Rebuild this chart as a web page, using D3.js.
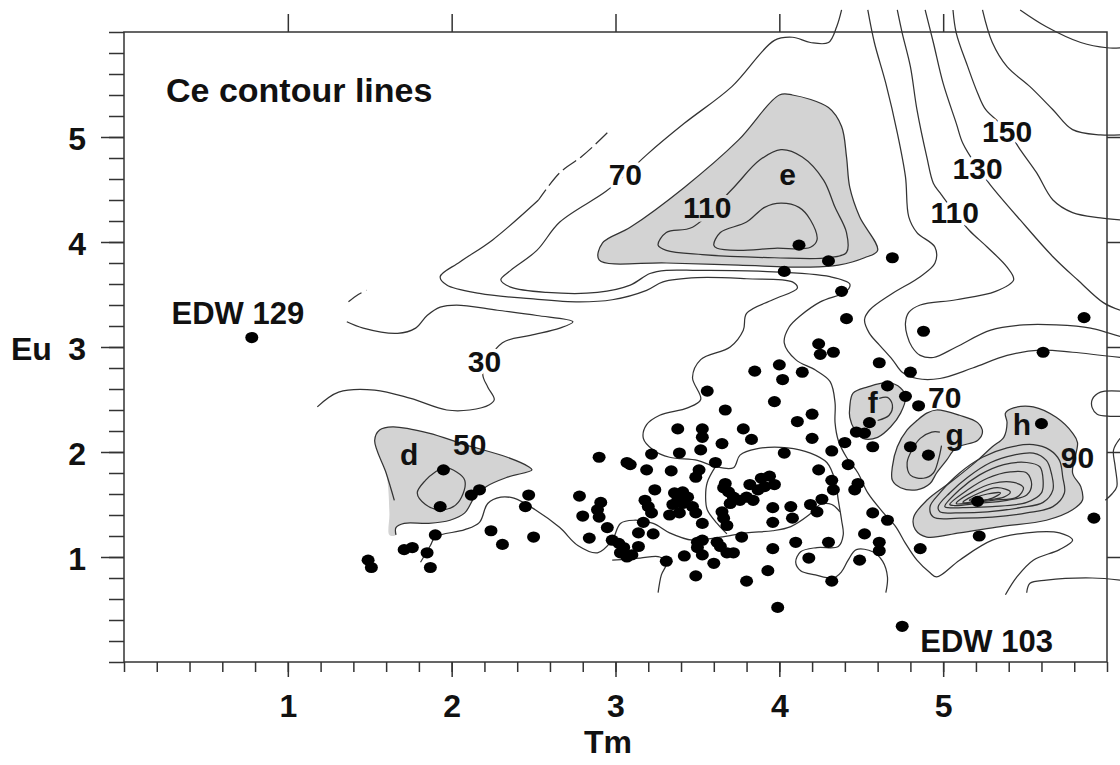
<!DOCTYPE html>
<html>
<head>
<meta charset="utf-8">
<script src="https://cdn.jsdelivr.net/npm/d3@7"></script>
<style>
    body { margin: 0; background: #fff; }
    text { font-family: "Liberation Sans", Arial, sans-serif; font-weight: bold; fill: #111; }
</style>
</head>
<body>
<svg id="chart" width="1120" height="765"></svg>
<script>
// all values are [Tm, Eu]
var dotPoints = [
    [0.78, 3.09], [1.49, 0.97], [1.51, 0.90], [1.71, 1.07], [1.76, 1.09], [1.85, 1.04], [1.87, 0.90], [1.90, 1.21],
    [1.95, 1.83], [1.93, 1.48], [2.12, 1.59], [2.17, 1.64], [2.24, 1.25], [2.31, 1.12], [2.47, 1.59], [2.45, 1.48], [2.50, 1.19],
    [3.85, 2.77], [3.56, 2.58], [3.67, 2.40], [3.38, 2.22], [3.53, 2.22], [3.53, 2.14], [3.78, 2.22], [3.83, 2.12],
    [3.65, 2.08], [3.52, 2.02], [3.39, 1.99], [2.90, 1.95], [3.22, 1.98], [3.07, 1.90], [3.09, 1.88], [3.61, 1.90],
    [3.19, 1.83], [3.34, 1.82], [3.51, 1.83], [3.49, 1.76], [3.67, 1.70], [3.66, 1.66], [3.82, 1.69], [3.24, 1.64],
    [3.36, 1.61], [3.41, 1.62], [3.44, 1.57], [3.38, 1.54], [3.35, 1.50], [3.41, 1.51], [3.47, 1.48], [3.49, 1.42],
    [3.39, 1.42], [3.33, 1.40], [2.78, 1.58], [2.91, 1.52], [2.89, 1.45], [2.90, 1.38], [3.18, 1.54], [3.20, 1.48],
    [3.22, 1.42], [3.69, 1.62], [3.72, 1.57], [3.70, 1.51], [3.76, 1.54], [3.80, 1.57], [3.84, 1.54], [3.87, 1.64],
    [2.80, 1.39], [3.17, 1.33], [3.53, 1.32], [3.65, 1.43], [3.66, 1.37], [3.68, 1.30], [2.95, 1.28], [2.84, 1.18],
    [3.14, 1.23], [3.23, 1.22], [2.98, 1.16], [3.02, 1.13], [3.05, 1.09], [3.03, 1.04], [3.07, 1.00], [3.10, 1.02],
    [3.14, 1.10], [3.50, 1.14], [3.53, 1.16], [3.50, 1.09], [3.53, 1.02], [3.62, 1.14], [3.64, 1.10], [3.68, 1.04],
    [3.72, 1.04], [3.77, 1.19], [3.31, 0.96], [3.42, 1.01], [3.60, 0.94], [3.49, 0.82], [3.80, 0.77],
    [4.88, 3.15], [4.24, 3.03], [4.25, 2.93], [4.33, 2.95], [4.61, 2.85], [4.00, 2.83], [4.02, 2.69], [4.14, 2.76],
    [4.80, 2.76], [4.66, 2.63], [4.77, 2.53], [4.85, 2.44], [3.97, 2.48], [4.20, 2.36], [4.11, 2.29], [4.55, 2.28],
    [4.47, 2.19], [4.52, 2.18], [4.40, 2.09], [4.57, 2.05], [4.80, 2.05], [4.91, 1.97], [4.32, 2.01], [4.03, 1.99],
    [4.20, 2.13], [4.42, 1.88], [4.24, 1.83], [4.32, 1.73], [4.33, 1.64], [4.48, 1.70], [4.46, 1.64], [3.89, 1.75],
    [3.94, 1.77], [3.97, 1.69], [3.91, 1.67], [4.26, 1.55], [4.19, 1.50], [4.23, 1.43], [3.96, 1.47], [4.07, 1.48],
    [4.08, 1.37], [3.96, 1.33], [4.57, 1.42], [4.66, 1.35], [4.10, 1.14], [4.30, 1.14], [4.52, 1.22], [4.61, 1.14],
    [4.61, 1.06], [4.86, 1.08], [3.96, 1.08], [4.18, 0.99], [4.49, 0.97], [3.93, 0.87], [4.32, 0.77], [3.99, 0.52],
    [4.12, 3.97], [4.30, 3.82], [4.03, 3.72], [4.69, 3.85], [4.38, 3.53], [4.41, 3.27], [5.86, 3.28], [5.61, 2.95],
    [5.60, 2.27], [5.21, 1.53], [5.22, 1.20], [5.92, 1.37], [4.75, 0.34]
]

// open contour lines
var contour30 = [[1.18, 2.43], [1.31, 2.57], [1.53, 2.59], [1.75, 2.51], [1.97, 2.40], [2.11, 2.40], [2.23, 2.45], [2.26, 2.50],
    [2.22, 2.62], [2.19, 2.75], [2.31, 3.04], [2.48, 3.11], [2.66, 3.18], [2.74, 3.24], [2.52, 3.30], [2.28, 3.35],
    [2.03, 3.40], [1.93, 3.38], [1.85, 3.30], [1.78, 3.18], [1.67, 3.13], [1.46, 3.18], [1.36, 3.24]]
var arc30 = [[1.37, 3.43], [1.43, 3.50], [1.48, 3.54]]
var contour50Dash = [[2.95, 5.04], [2.87, 4.92], [2.79, 4.81], [2.66, 4.66], [2.53, 4.40]]
var contour50 = [[2.53, 4.40], [2.25, 4.02], [2.05, 3.81], [1.93, 3.67], [1.97, 3.59], [2.17, 3.51], [2.48, 3.46], [2.78, 3.43],
    [2.98, 3.45], [3.19, 3.54], [3.29, 3.62], [3.50, 3.66], [3.80, 3.65], [4.08, 3.62], [4.11, 3.56], [3.96, 3.45],
    [3.80, 3.32], [3.78, 3.16], [3.70, 3.00], [3.52, 2.88], [3.47, 2.71], [3.52, 2.50], [3.44, 2.42], [3.27, 2.35],
    [3.19, 2.26], [3.17, 2.13], [3.23, 2.02], [3.33, 1.95], [3.50, 1.92], [3.61, 1.86], [3.72, 1.85], [3.76, 1.97],
    [3.86, 2.03], [4.05, 2.04], [4.19, 1.99], [4.29, 1.90], [4.34, 1.73], [4.36, 1.54], [4.38, 1.35], [4.39, 1.21],
    [4.36, 1.10], [4.23, 1.09], [4.13, 1.05], [4.10, 0.95], [4.13, 0.87], [4.22, 0.83], [4.33, 0.80], [4.38, 0.86],
    [4.42, 0.97], [4.47, 1.07], [4.57, 1.05], [4.63, 0.96], [4.66, 0.81], [4.65, 0.66]]
var link50 = [[3.61, 1.86], [3.56, 1.71], [3.55, 1.57], [3.56, 1.45], [3.62, 1.32], [3.68, 1.22]]
var contourLow = [[1.81, 0.95], [1.87, 1.11], [1.90, 1.19], [2.08, 1.26], [2.17, 1.33], [2.22, 1.51], [2.30, 1.57], [2.38, 1.56],
    [2.51, 1.45], [2.66, 1.28], [2.77, 1.11], [2.89, 1.04], [2.98, 1.16], [3.03, 1.32], [3.11, 1.35], [3.23, 1.32],
    [3.33, 1.23], [3.47, 1.16], [3.64, 1.19], [3.80, 1.23], [3.96, 1.25], [4.07, 1.29], [4.18, 1.40], [4.25, 1.50],
    [4.32, 1.50], [4.37, 1.43]]
var contourLowStub = [[2.98, 0.97], [3.15, 0.99], [3.27, 1.00], [3.31, 0.94], [3.28, 0.83], [3.26, 0.66]]
var contour70 = [[4.38, 6.21], [4.35, 6.05], [4.30, 5.90], [4.19, 5.90], [4.08, 5.95], [3.97, 5.92], [3.71, 5.48], [3.42, 5.13],
    [3.19, 4.83], [3.06, 4.64], [2.94, 4.48], [2.66, 4.19], [2.52, 3.92], [2.36, 3.73], [2.30, 3.64], [2.36, 3.57],
    [2.58, 3.52], [2.89, 3.52], [3.09, 3.59], [3.21, 3.70], [3.31, 3.73], [3.50, 3.73], [3.90, 3.72], [4.31, 3.67],
    [4.43, 3.60], [4.41, 3.53], [4.25, 3.43], [4.13, 3.30], [4.06, 3.19], [4.03, 3.04], [4.10, 2.88], [4.22, 2.78],
    [4.31, 2.67], [4.34, 2.47], [4.34, 2.28], [4.36, 2.11], [4.41, 1.95], [4.48, 1.80], [4.54, 1.61], [4.63, 1.43],
    [4.71, 1.29], [4.77, 1.13], [4.84, 0.97], [4.92, 0.85], [4.96, 0.81], [5.10, 0.97], [5.30, 1.16], [5.51, 1.23],
    [5.71, 1.23], [5.79, 1.16], [5.71, 1.07], [5.55, 0.97], [5.45, 0.81], [5.38, 0.64]]
var contour90 = [[4.54, 6.21], [4.58, 5.90], [4.65, 5.51], [4.72, 5.04], [4.77, 4.62], [4.79, 4.24], [4.84, 4.09], [4.95, 3.95],
    [4.95, 3.80], [4.86, 3.67], [4.68, 3.50], [4.55, 3.35], [4.52, 3.26], [4.55, 3.13], [4.61, 3.02], [4.69, 2.88],
    [4.75, 2.76], [4.84, 2.70], [4.98, 2.70], [5.18, 2.80], [5.39, 2.92], [5.59, 2.97], [5.79, 2.95], [6.08, 2.90]]
var contour110 = [[4.72, 6.21], [4.75, 5.99], [4.80, 5.67], [4.84, 5.26], [4.90, 4.81], [4.94, 4.56], [4.98, 4.47], [5.07, 4.28],
    [5.16, 4.11], [5.27, 3.95], [5.39, 3.76], [5.43, 3.64], [5.32, 3.53], [5.08, 3.45], [4.86, 3.40], [4.79, 3.33],
    [4.77, 3.23], [4.78, 3.11], [4.81, 3.00], [4.86, 2.92], [4.94, 2.90], [5.08, 3.00], [5.29, 3.16], [5.49, 3.21],
    [5.69, 3.21], [5.90, 3.18], [6.08, 3.10]]
var contour130 = [[4.89, 6.21], [4.94, 5.90], [5.00, 5.51], [5.08, 5.13], [5.12, 4.94], [5.21, 4.71], [5.29, 4.54], [5.47, 4.21],
    [5.67, 3.86], [5.82, 3.64], [5.98, 3.42], [6.08, 3.35]]
var contour150 = [[5.06, 6.21], [5.08, 5.99], [5.15, 5.67], [5.21, 5.42], [5.26, 5.26], [5.39, 5.07], [5.47, 4.88], [5.57, 4.66],
    [5.67, 4.40], [5.79, 4.28], [5.96, 4.23], [6.08, 4.21]]
var contour170 = [[5.24, 6.21], [5.30, 5.90], [5.39, 5.67], [5.53, 5.48], [5.67, 5.26], [5.79, 5.07], [5.96, 5.02], [6.08, 5.02]]
var contour190 = [[5.47, 6.21], [5.63, 6.05], [5.84, 5.90], [6.00, 5.85], [6.08, 5.85]]
var edgeLoopA = [[6.08, 2.58], [5.96, 2.57], [5.91, 2.50], [5.91, 2.42], [5.94, 2.36], [6.02, 2.34], [6.08, 2.34]]
var edgeLoopB = [[6.08, 2.13], [6.04, 2.02], [6.05, 1.86], [6.06, 1.67], [6.03, 1.60], [5.99, 1.54]]
var edgeLineC = [[5.51, 0.66], [5.53, 0.75], [5.63, 0.78], [5.91, 0.80], [6.08, 0.78]]

// shaded areas and their inner contours
var regionE = [[2.90, 3.83], [2.92, 3.99], [3.09, 4.14], [3.42, 4.52], [3.75, 4.97], [4.00, 5.40], [4.08, 5.40], [4.30, 5.28],
    [4.38, 5.10], [4.41, 4.81], [4.43, 4.52], [4.49, 4.24], [4.60, 3.92], [4.52, 3.85], [4.36, 3.78], [4.19, 3.76],
    [3.75, 3.78], [3.31, 3.80]]
var ringE110 = [[3.26, 3.97], [3.31, 4.09], [3.47, 4.14], [3.71, 4.50], [3.88, 4.78], [4.01, 4.88], [4.14, 4.81], [4.27, 4.59],
    [4.34, 4.33], [4.41, 4.09], [4.41, 3.90], [4.30, 3.85], [3.97, 3.85], [3.53, 3.88], [3.31, 3.92]]
var ringE130 = [[3.60, 3.97], [3.64, 4.09], [3.80, 4.19], [3.91, 4.33], [4.01, 4.37], [4.12, 4.33], [4.19, 4.21], [4.23, 4.02],
    [4.19, 3.95], [3.97, 3.94], [3.75, 3.92], [3.62, 3.94]]
var regionD = [[1.53, 2.11], [1.56, 2.21], [1.64, 2.24], [1.86, 2.18], [2.08, 2.07], [2.34, 1.95], [2.47, 1.86], [2.49, 1.83],
    [2.34, 1.76], [2.21, 1.67], [2.14, 1.57], [2.08, 1.42], [1.99, 1.35], [1.86, 1.32], [1.71, 1.32], [1.66, 1.28],
    [1.66, 1.21], [1.62, 1.21], [1.62, 1.42], [1.60, 1.80]]
var edgeD = [[1.65, 1.54], [1.60, 1.80], [1.53, 2.11], [1.56, 2.21], [1.64, 2.24], [1.86, 2.18], [2.08, 2.07], [2.34, 1.95],
    [2.47, 1.86], [2.49, 1.83], [2.34, 1.76], [2.21, 1.67], [2.14, 1.57], [2.08, 1.42], [1.99, 1.35], [1.86, 1.32],
    [1.71, 1.32], [1.66, 1.28], [1.66, 1.21]]
var ringD70 = [[1.95, 1.85], [2.03, 1.81], [2.08, 1.73], [2.06, 1.57], [2.01, 1.48], [1.92, 1.45], [1.84, 1.50], [1.79, 1.61],
    [1.84, 1.73], [1.90, 1.81]]
var regionF = [[4.43, 2.43], [4.45, 2.56], [4.54, 2.62], [4.66, 2.66], [4.74, 2.61], [4.77, 2.52], [4.74, 2.37], [4.68, 2.24],
    [4.60, 2.14], [4.51, 2.13], [4.46, 2.21], [4.43, 2.33]]
var ringF = [[4.61, 2.51], [4.66, 2.52], [4.69, 2.45], [4.67, 2.35], [4.60, 2.30]]
var regionG = [[4.84, 2.30], [4.90, 2.37], [4.96, 2.40], [5.10, 2.35], [5.21, 2.28], [5.24, 2.19], [5.21, 2.11], [5.08, 2.04],
    [5.02, 1.92], [4.96, 1.80], [4.92, 1.70], [4.84, 1.64], [4.74, 1.66], [4.69, 1.73], [4.69, 1.86], [4.72, 2.05], [4.78, 2.21]]
var ringG = [[4.98, 2.19], [4.93, 2.19], [4.86, 2.13], [4.81, 2.02], [4.78, 1.90], [4.80, 1.78], [4.88, 1.75], [4.94, 1.80],
    [4.97, 1.92], [4.99, 2.06]]
var regionH = [[5.38, 2.37], [5.43, 2.42], [5.55, 2.43], [5.69, 2.33], [5.79, 2.18], [5.82, 2.09], [5.79, 1.80], [5.84, 1.67],
    [5.85, 1.54], [5.79, 1.45], [5.63, 1.35], [5.35, 1.29], [5.10, 1.23], [4.90, 1.19], [4.83, 1.26], [4.82, 1.38],
    [4.90, 1.54], [5.06, 1.73], [5.21, 1.92], [5.30, 2.05], [5.37, 2.14], [5.39, 2.28]]
var ringsH = [
    [[4.92, 1.48], [4.98, 1.61], [5.10, 1.80], [5.24, 1.95], [5.39, 2.04], [5.55, 2.07], [5.65, 2.02], [5.71, 1.92],
        [5.73, 1.76], [5.74, 1.61], [5.67, 1.48], [5.51, 1.42], [5.30, 1.38], [5.10, 1.37], [4.94, 1.38]],
    [[4.97, 1.48], [5.04, 1.61], [5.15, 1.76], [5.29, 1.90], [5.43, 1.97], [5.55, 1.99], [5.63, 1.92], [5.66, 1.80],
        [5.67, 1.64], [5.61, 1.52], [5.47, 1.47], [5.27, 1.43], [5.08, 1.42], [4.98, 1.43]],
    [[5.01, 1.48], [5.10, 1.64], [5.22, 1.78], [5.37, 1.88], [5.51, 1.90], [5.59, 1.86], [5.61, 1.73], [5.60, 1.61],
        [5.51, 1.52], [5.30, 1.48], [5.12, 1.47], [5.03, 1.47]],
    [[5.04, 1.50], [5.15, 1.64], [5.27, 1.75], [5.41, 1.81], [5.51, 1.80], [5.54, 1.69], [5.51, 1.59], [5.39, 1.54],
        [5.21, 1.51], [5.07, 1.49]],
    [[5.08, 1.51], [5.18, 1.62], [5.30, 1.70], [5.43, 1.71], [5.49, 1.66], [5.45, 1.57], [5.30, 1.54], [5.15, 1.51]],
    [[5.12, 1.52], [5.22, 1.61], [5.33, 1.66], [5.41, 1.62], [5.37, 1.57], [5.24, 1.54]],
    [[5.16, 1.54], [5.27, 1.60], [5.35, 1.61], [5.30, 1.56], [5.21, 1.53]]
]

// contour value labels, letters and sample names
var lineLabels = ["70", "110", "110", "130", "150", "30", "50", "70", "90"]
var lineLabelTm = [3.06, 3.56, 5.07, 5.21, 5.39, 2.20, 2.11, 5.01, 5.82]
var lineLabelEu = [4.54, 4.23, 4.18, 4.60, 4.95, 2.76, 1.97, 2.42, 1.85]
var lineLabelHalo = ["#fff", "#d3d3d3", "#fff", "#fff", "#fff", "#fff", "none", "none", "none"]
var letters = ["e", "d", "f", "g", "h"]
var letterTm = [4.05, 1.74, 4.57, 5.07, 5.48]
var letterEu = [4.54, 1.88, 2.37, 2.07, 2.16]
var sampleNames = ["EDW 129", "EDW 103"]
var sampleTm = [0.29, 4.86]
var sampleEu = [3.22, 0.10]

var majorTicks = [1, 2, 3, 4, 5]
var minorTicks = d3.range(0, 31).map(function (i) { return i / 5 })

var svg = d3.select("svg#chart"),
    x = d3.scaleLinear().domain([0, 6]).range([124, 1107]),
    y = d3.scaleLinear().domain([0, 6]).range([662, 32])

var lineColor = '#333333'
var shade = '#d3d3d3'

var openLine = d3.line()
    .x(function (d) { return x(d[0]) })
    .y(function (d) { return y(d[1]) })
    .curve(d3.curveCatmullRom.alpha(0.5))
var closedLine = d3.line()
    .x(function (d) { return x(d[0]) })
    .y(function (d) { return y(d[1]) })
    .curve(d3.curveCatmullRomClosed.alpha(0.5))

var plot = svg.append("g")

// shaded areas
;[regionE, regionD, regionF, regionG, regionH].forEach(function (r) {
    plot.append("path").attr("d", closedLine(r)).attr("fill", shade).attr("stroke", "none")
})

// closed rings
var rings = [regionE, ringE110, ringE130, ringD70, regionF, regionG, regionH].concat(ringsH)
plot.selectAll(".ring").data(rings).enter().append("path")
    .attr("class", "ring")
    .attr("d", closedLine)
    .attr("fill", "none")
    .attr("stroke", lineColor)
    .attr("stroke-width", 1.25)

// open lines
var lines = [contour30, contour50, link50, contourLow, contourLowStub, contour70, contour90, contour110, contour130,
    contour150, contour170, contour190, edgeLoopA, edgeLoopB, edgeLineC, edgeD, ringF, ringG]
plot.selectAll(".cline").data(lines).enter().append("path")
    .attr("class", "cline")
    .attr("d", openLine)
    .attr("fill", "none")
    .attr("stroke", lineColor)
    .attr("stroke-width", 1.25)

plot.selectAll(".dline").data([contour50Dash, arc30]).enter().append("path")
    .attr("class", "dline")
    .attr("d", openLine)
    .attr("fill", "none")
    .attr("stroke", lineColor)
    .attr("stroke-width", 1.25)
    .attr("stroke-dasharray", "16,5")

// frame and axes
svg.append("rect")
    .attr("x", x(0)).attr("y", y(6))
    .attr("width", x(6) - x(0)).attr("height", y(0) - y(6))
    .attr("fill", "none").attr("stroke", "#333").attr("stroke-width", 1.5)

function styleAxis(g) {
    g.select(".domain").remove()
    g.selectAll(".tick line").attr("stroke", "#333").attr("stroke-width", 1.5)
    g.attr("font-size", 32).attr("font-family", '"Liberation Sans", Arial, sans-serif').attr("font-weight", "bold")
    g.selectAll(".tick text").attr("fill", "#111")
}

svg.append("g").attr("transform", "translate(0," + y(0) + ")")
    .call(d3.axisBottom(x).tickValues(minorTicks).tickSize(10).tickFormat("")).call(styleAxis)
svg.append("g").attr("transform", "translate(0," + y(0) + ")")
    .call(d3.axisBottom(x).tickValues(majorTicks).tickSize(15).tickPadding(17).tickFormat(d3.format("d"))).call(styleAxis)
svg.append("g").attr("transform", "translate(" + x(0) + ",0)")
    .call(d3.axisLeft(y).tickValues(minorTicks).tickSize(15).tickFormat("")).call(styleAxis)
svg.append("g").attr("transform", "translate(" + x(0) + ",0)")
    .call(d3.axisLeft(y).tickValues(majorTicks).tickSize(23).tickPadding(15).tickFormat(d3.format("d"))).call(styleAxis)
    .selectAll(".tick text").attr("dy", "0.4em")
svg.append("g").attr("transform", "translate(0," + y(6) + ")")
    .call(d3.axisTop(x).tickValues(majorTicks).tickSize(18).tickFormat("")).call(styleAxis)
svg.append("g").attr("transform", "translate(" + x(6) + ",0)")
    .call(d3.axisRight(y).tickValues(majorTicks).tickSize(14).tickFormat("")).call(styleAxis)

svg.append("text").attr("x", 11).attr("y", y(3) + 13).style("font-size", "32px").text("Eu")
svg.append("text").attr("x", 608).attr("y", 753).attr("text-anchor", "middle").style("font-size", "32px").text("Tm")
svg.append("text").attr("x", 166).attr("y", 102).style("font-size", "34px").text("Ce contour lines")

// sample points
svg.append("g").selectAll("ellipse").data(dotPoints).enter().append("ellipse")
    .attr("cx", function (d) { return x(d[0]) })
    .attr("cy", function (d) { return y(d[1]) })
    .attr("rx", 6.5).attr("ry", 5.6)
    .attr("fill", "#000")

// labels
svg.append("g").selectAll("text").data(lineLabels).enter().append("text")
    .attr("x", function (d, i) { return x(lineLabelTm[i]) })
    .attr("y", function (d, i) { return y(lineLabelEu[i]) })
    .attr("text-anchor", "middle")
    .style("font-size", "30px")
    .style("stroke", function (d, i) { return lineLabelHalo[i] })
    .style("stroke-width", 7)
    .style("stroke-linejoin", "round")
    .style("paint-order", "stroke")
    .text(function (d) { return d })

svg.append("g").selectAll("text").data(letters).enter().append("text")
    .attr("x", function (d, i) { return x(letterTm[i]) })
    .attr("y", function (d, i) { return y(letterEu[i]) })
    .attr("text-anchor", "middle")
    .style("font-size", "30px")
    .text(function (d) { return d })

svg.append("g").selectAll("text").data(sampleNames).enter().append("text")
    .attr("x", function (d, i) { return x(sampleTm[i]) })
    .attr("y", function (d, i) { return y(sampleEu[i]) })
    .style("font-size", "31px")
    .text(function (d) { return d })
</script>
</body>
</html>
